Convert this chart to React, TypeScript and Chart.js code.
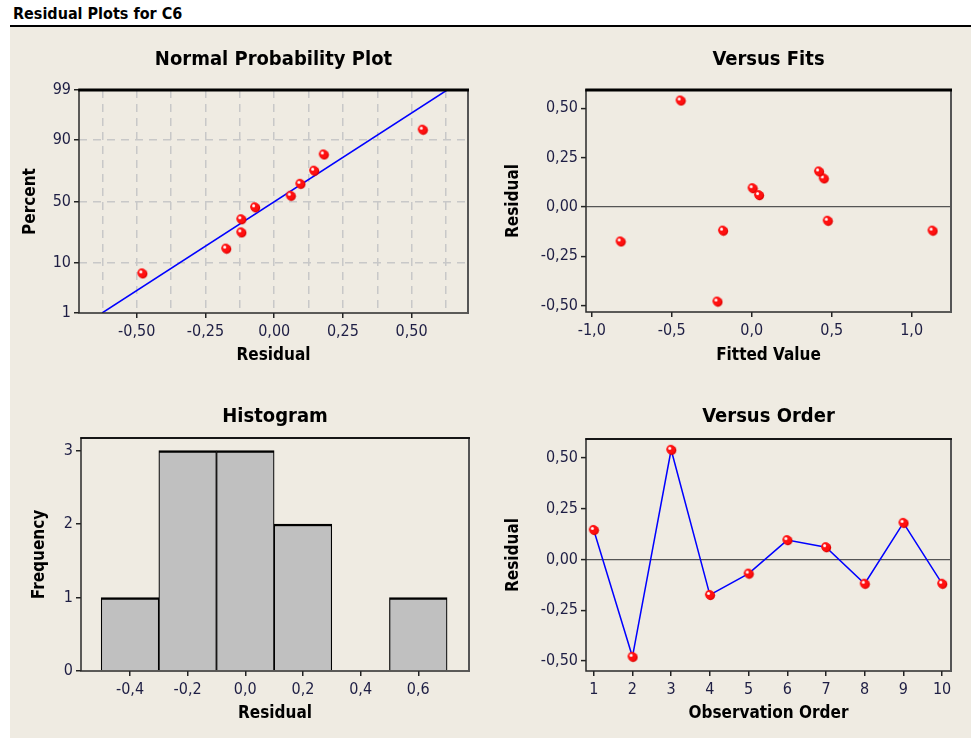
import React, { useEffect, useRef } from "react";
import { Chart, registerables, LinearScale } from "chart.js";

Chart.register(...registerables);

// ---------------- data ----------------
const observationOrder = [1, 2, 3, 4, 5, 6, 7, 8, 9, 10];
const residuals = [0.145, -0.48, 0.54, -0.175, -0.07, 0.095, 0.06, -0.12, 0.18, -0.12];
const fittedValues = [0.45, -0.215, -0.445, -0.82, 0.475, 0.005, 0.045, -0.18, 0.42, 1.13];

// normal probability plot: plotting positions (percent) of the sorted residuals
const nppPercent = [6.7, 16.3, 26.0, 35.6, 45.2, 54.8, 64.4, 74.0, 83.7, 93.3];
const fitLinePercent = [1, 99];
const fitLineResidual = [-0.626, 0.629];

// histogram
const binCenters = [-0.4, -0.2, 0.0, 0.2, 0.4, 0.6];
const binCounts = [1, 3, 3, 2, 0, 1];

// tick values
const nppXTicks = [-0.625, -0.5, -0.375, -0.25, -0.125, 0, 0.125, 0.25, 0.375, 0.5, 0.625];
const nppYTicks = [1, 10, 50, 90, 99];
const fitsXTicks = [-1.0, -0.5, 0.0, 0.5, 1.0];
const residualTicks = [-0.5, -0.25, 0, 0.25, 0.5];
const histXTicks = [-0.4, -0.2, 0.0, 0.2, 0.4, 0.6];
const histYTicks = [0, 1, 2, 3];

// ---------------- helpers ----------------
function probit(p: number): number {
  const a = [-3.969683028665376e1, 2.209460984245205e2, -2.759285104469687e2, 1.38357751867269e2, -3.066479806614716e1, 2.506628277459239];
  const b = [-5.447609879822406e1, 1.615858368580409e2, -1.556989798598866e2, 6.680131188771972e1, -1.328068155288572e1];
  const c = [-7.784894002430293e-3, -3.223964580411365e-1, -2.400758277161838, -2.549732539343734, 4.374664141464968, 2.938163982698783];
  const d = [7.784695709041462e-3, 3.224671290700398e-1, 2.445134137142996, 3.754408661907416];
  const pl = 0.02425;
  let q: number, r: number;
  if (p < pl) {
    q = Math.sqrt(-2 * Math.log(p));
    return (((((c[0] * q + c[1]) * q + c[2]) * q + c[3]) * q + c[4]) * q + c[5]) / ((((d[0] * q + d[1]) * q + d[2]) * q + d[3]) * q + 1);
  }
  if (p <= 1 - pl) {
    q = p - 0.5;
    r = q * q;
    return ((((((a[0] * r + a[1]) * r + a[2]) * r + a[3]) * r + a[4]) * r + a[5]) * q) / (((((b[0] * r + b[1]) * r + b[2]) * r + b[3]) * r + b[4]) * r + 1);
  }
  q = Math.sqrt(-2 * Math.log(1 - p));
  return -(((((c[0] * q + c[1]) * q + c[2]) * q + c[3]) * q + c[4]) * q + c[5]) / ((((d[0] * q + d[1]) * q + d[2]) * q + d[3]) * q + 1);
}
function normCdf(z: number): number {
  const t = 1 / (1 + 0.2316419 * Math.abs(z));
  const y = 0.3989423 * Math.exp((-z * z) / 2) * t * (0.3193815 + t * (-0.3565638 + t * (1.781478 + t * (-1.821256 + t * 1.330274))));
  return z > 0 ? 1 - y : y;
}

class ProbabilityScale extends (LinearScale as any) {
  static id = "probability";
  _zStart = 0;
  _zRange = 1;
  determineDataLimits() {
    (this as any).min = (this as any).options.min;
    (this as any).max = (this as any).options.max;
  }
  buildTicks() {
    return nppYTicks.map((v) => ({ value: v }));
  }
  configure() {
    super.configure();
    const a = probit((this as any).min / 100);
    const b = probit((this as any).max / 100);
    this._zStart = a;
    this._zRange = b - a;
  }
  getPixelForValue(value: number) {
    return (this as any).getPixelForDecimal((probit(value / 100) - this._zStart) / this._zRange);
  }
  getValueForPixel(pixel: number) {
    const dec = (this as any).getDecimalForPixel(pixel);
    return normCdf(this._zStart + dec * this._zRange) * 100;
  }
}
Chart.register(ProbabilityScale as any);

const FAMILY = "'DejaVu Sans Condensed', 'DejaVu Sans', sans-serif";
const TICK_COLOR = "#1e1e44";
const tickFont = { family: FAMILY, size: 16, lineHeight: "18px" };
const axisTitleFont = { family: FAMILY, size: 17, weight: "bold" as const, lineHeight: "20px" };
const panelTitleFont = { family: FAMILY, size: 20, weight: "bold" as const, lineHeight: "20px" };

function makeMarker(): HTMLCanvasElement {
  const c = document.createElement("canvas");
  c.width = 12;
  c.height = 12;
  const g = c.getContext("2d")!;
  g.fillStyle = "#e00000";
  g.beginPath();
  g.arc(6.6, 6.6, 4.6, 0, Math.PI * 2);
  g.fill();
  g.fillStyle = "#ff1010";
  g.beginPath();
  g.arc(5.6, 5.6, 4.5, 0, Math.PI * 2);
  g.fill();
  g.fillStyle = "#ffffff";
  g.beginPath();
  g.arc(4.6, 4.4, 1.5, 0, Math.PI * 2);
  g.fill();
  return c;
}

const fmt = (dec: number) => (v: number) => {
  const s = (Math.abs(v) < 1e-9 ? 0 : v).toFixed(dec);
  return s.replace(".", ",");
};

function framePlugin(topWidth: number) {
  return {
    id: "frame",
    afterDraw(chart: any) {
      const { ctx, chartArea: a } = chart;
      ctx.save();
      ctx.strokeStyle = "#2a2a2a";
      ctx.lineWidth = 1.5;
      ctx.strokeRect(a.left, a.top, a.right - a.left, a.bottom - a.top);
      ctx.strokeStyle = "#555555";
      ctx.lineWidth = 2;
      ctx.beginPath();
      ctx.moveTo(a.right, a.top);
      ctx.lineTo(a.right, a.bottom + 1);
      ctx.stroke();
      ctx.strokeStyle = "#000";
      ctx.lineWidth = topWidth;
      ctx.beginPath();
      ctx.moveTo(a.left - 0.75, a.top);
      ctx.lineTo(a.right + 1, a.top);
      ctx.stroke();
      ctx.restore();
    },
  };
}

function axisTitle(text: string) {
  return { display: true, text, font: axisTitleFont, color: "#000", padding: { top: 4, bottom: 4 } };
}
function panelTitle(text: string, top: number, bottom: number) {
  return { display: true, fullSize: false, text, font: panelTitleFont, color: "#000", padding: { top, bottom } };
}
function fixedTicks(values: number[]) {
  return (s: any) => {
    s.ticks = values.map((v) => ({ value: v }));
  };
}

function baseX(opts: any) {
  return {
    type: "linear",
    offset: false,
    min: opts.min,
    max: opts.max,
    afterBuildTicks: fixedTicks(opts.ticks),
    afterFit: (s: any) => {
      s.height = opts.height;
    },
    ticks: { callback: opts.callback, autoSkip: false, maxRotation: 0, padding: 5, font: tickFont, color: TICK_COLOR },
    grid: {
      offset: false,
      drawOnChartArea: !!opts.gridColor,
      color: opts.gridColor || "transparent",
      lineWidth: 1.5,
      drawTicks: true,
      tickLength: 5,
      tickWidth: 1.5,
      tickColor: opts.tickColor || "#222",
      tickBorderDash: [],
    },
    border: { display: false, dash: opts.dash || [] },
    title: axisTitle(opts.title),
  };
}
function baseY(opts: any) {
  return {
    type: opts.type || "linear",
    min: opts.min,
    max: opts.max,
    afterBuildTicks: opts.type ? undefined : fixedTicks(opts.ticks),
    afterFit: (s: any) => {
      s.width = opts.width;
    },
    ticks: { callback: opts.callback, autoSkip: false, padding: 3, font: tickFont, color: TICK_COLOR },
    grid: {
      drawOnChartArea: !!opts.gridColor,
      color: opts.gridColor || "transparent",
      lineWidth: opts.gridWidth || 1.5,
      drawTicks: true,
      tickLength: 5,
      tickWidth: 1.5,
      tickColor: "#222",
      tickBorderDash: [],
    },
    border: { display: false, dash: opts.dash || [] },
    title: axisTitle(opts.title),
  };
}

const commonOpts = {
  animation: false,
  responsive: false,
  events: [],
};

export default function App() {
  const nppRef = useRef<HTMLCanvasElement>(null);
  const fitsRef = useRef<HTMLCanvasElement>(null);
  const histRef = useRef<HTMLCanvasElement>(null);
  const orderRef = useRef<HTMLCanvasElement>(null);

  useEffect(() => {
    document.body.style.margin = "0";
    const marker = makeMarker();
    const sortedResiduals = [...residuals].sort((a, b) => a - b);
    const isMajor = (v: number) => Math.abs(Math.round(v / 0.25) * 0.25 - v) < 1e-9;

    const npp = new Chart(nppRef.current!, {
      type: "scatter",
      data: {
        datasets: [
          {
            data: fitLineResidual.map((x, i) => ({ x, y: fitLinePercent[i] })),
            showLine: true,
            borderColor: "#0000ff",
            borderWidth: 1.5,
            pointRadius: 0,
            order: 2,
          },
          {
            data: sortedResiduals.map((x, i) => ({ x, y: nppPercent[i] })),
            pointStyle: marker,
            pointRadius: 5,
            order: 1,
          },
        ],
      },
      options: {
        ...commonOpts,
        layout: { padding: { left: 7, top: 0, right: 17, bottom: 12 } },
        plugins: {
          legend: { display: false },
          tooltip: { enabled: false },
          title: panelTitle("Normal Probability Plot", 23, 20),
        },
        scales: {
          x: baseX({
            min: -0.71,
            max: 0.705,
            ticks: nppXTicks,
            height: 57,
            title: "Residual",
            callback: (v: number) => (isMajor(v) ? fmt(2)(v) : ""),
            gridColor: "#c8c8c8",
            tickColor: (ctx: any) => (ctx.tick && isMajor(ctx.tick.value) ? "#222" : "transparent"),
            dash: [8, 6],
          }),
          y: baseY({
            type: "probability",
            min: 1,
            max: 99,
            width: 62,
            title: "Percent",
            callback: (v: number) => String(v),
            gridColor: (ctx: any) => (ctx.tick && (ctx.tick.value === 1 || ctx.tick.value === 99) ? "transparent" : "#c8c8c8"),
            dash: [8, 6],
          }),
        },
      } as any,
      plugins: [framePlugin(3)],
    } as any);

    const fits = new Chart(fitsRef.current!, {
      type: "scatter",
      data: {
        datasets: [
          {
            data: fittedValues.map((x, i) => ({ x, y: residuals[i] })),
            pointStyle: marker,
            pointRadius: 5,
          },
        ],
      },
      options: {
        ...commonOpts,
        layout: { padding: { left: 10, top: 0, right: 14, bottom: 12 } },
        plugins: {
          legend: { display: false },
          tooltip: { enabled: false },
          title: panelTitle("Versus Fits", 23, 20),
        },
        scales: {
          x: baseX({ min: -1.036, max: 1.246, ticks: fitsXTicks, height: 58, title: "Fitted Value", callback: fmt(1) }),
          y: baseY({
            min: -0.533,
            max: 0.593,
            ticks: residualTicks,
            width: 86,
            title: "Residual",
            callback: fmt(2),
            gridColor: (ctx: any) => (ctx.tick && ctx.tick.value === 0 ? "#555" : "transparent"),
            gridWidth: 1.2,
          }),
        },
      } as any,
      plugins: [framePlugin(3)],
    } as any);

    const hist = new Chart(histRef.current!, {
      type: "bar",
      data: {
        datasets: [
          {
            data: binCenters.map((x, i) => ({ x, y: binCounts[i] })),
            backgroundColor: "#c0c0c0",
            borderColor: "#000",
            borderWidth: { top: 2.5, left: 1.2, right: 1.2, bottom: 0 },
            borderSkipped: "bottom",
            barPercentage: 1,
            categoryPercentage: 1,
          },
        ],
      },
      options: {
        ...commonOpts,
        layout: { padding: { left: 16, top: 0, right: 16, bottom: 10 } },
        plugins: {
          legend: { display: false },
          tooltip: { enabled: false },
          title: panelTitle("Histogram", 25, 11),
        },
        scales: {
          x: baseX({ min: -0.57, max: 0.776, ticks: histXTicks, height: 57, title: "Residual", callback: fmt(1) }),
          y: baseY({ min: 0, max: 3.17, ticks: histYTicks, width: 55, title: "Frequency", callback: (v: number) => String(v) }),
        },
      } as any,
      plugins: [framePlugin(1.5)],
    } as any);

    const order = new Chart(orderRef.current!, {
      type: "scatter",
      data: {
        datasets: [
          {
            data: observationOrder.map((x, i) => ({ x, y: residuals[i] })),
            showLine: true,
            borderColor: "#0000ff",
            borderWidth: 1.5,
            pointStyle: marker,
            pointRadius: 5,
          },
        ],
      },
      options: {
        ...commonOpts,
        layout: { padding: { left: 10, top: 0, right: 14, bottom: 10 } },
        plugins: {
          legend: { display: false },
          tooltip: { enabled: false },
          title: panelTitle("Versus Order", 25, 12),
        },
        scales: {
          x: baseX({ min: 0.8, max: 10.23, ticks: observationOrder, height: 57, title: "Observation Order", callback: (v: number) => String(v) }),
          y: baseY({
            min: -0.55,
            max: 0.593,
            ticks: residualTicks,
            width: 86,
            title: "Residual",
            callback: fmt(2),
            gridColor: (ctx: any) => (ctx.tick && ctx.tick.value === 0 ? "#555" : "transparent"),
            gridWidth: 1.2,
          }),
        },
      } as any,
      plugins: [framePlugin(1.5)],
    } as any);

    return () => {
      npp.destroy();
      fits.destroy();
      hist.destroy();
      order.destroy();
    };
  }, []);

  const canvasStyle = (left: number, top: number): React.CSSProperties => ({ position: "absolute", left, top });

  return (
    <div style={{ position: "relative", width: 971, height: 738, background: "#ffffff", overflow: "hidden" }}>
      <div
        style={{
          position: "absolute",
          left: 13,
          top: 5,
          font: `bold 16px ${FAMILY}`,
          lineHeight: "18px",
          color: "#000",
          whiteSpace: "nowrap",
        }}
      >
        Residual Plots for C6
      </div>
      <div style={{ position: "absolute", left: 10, top: 25, width: 961, height: 2, background: "#000" }} />
      <div style={{ position: "absolute", left: 10, top: 27, width: 961, height: 711, background: "#efebe2" }} />
      <canvas ref={nppRef} width={475} height={355} style={canvasStyle(10, 27)} />
      <canvas ref={fitsRef} width={475} height={355} style={canvasStyle(490, 27)} />
      <canvas ref={histRef} width={475} height={356} style={canvasStyle(10, 382)} />
      <canvas ref={orderRef} width={475} height={356} style={canvasStyle(490, 382)} />
    </div>
  );
}
